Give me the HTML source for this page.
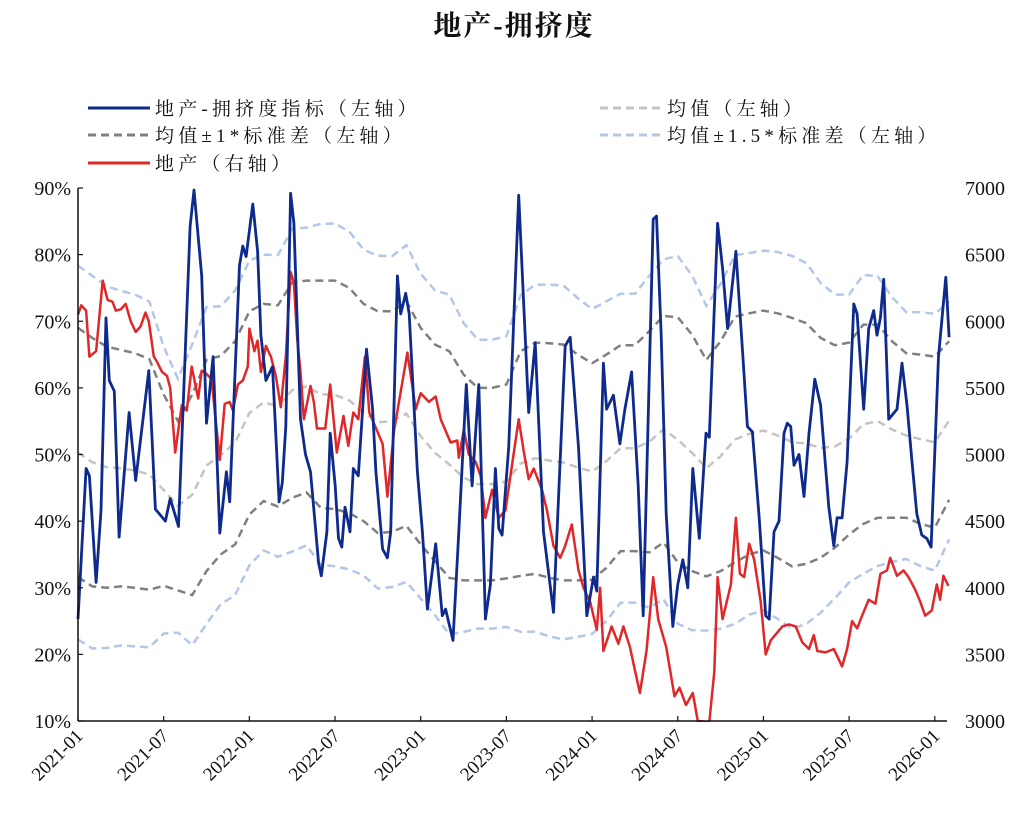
<!DOCTYPE html>
<html><head><meta charset="utf-8">
<style>
html,body{margin:0;padding:0;background:#fff;}
svg{display:block;}
text{font-family:"Liberation Serif","Noto Serif CJK SC",serif;fill:#111;}
.lg{letter-spacing:4.2px;}
</style></head>
<body>
<svg id="chart" width="1024" height="817" viewBox="0 0 1024 817" xmlns="http://www.w3.org/2000/svg">
<text x="514" y="35" text-anchor="middle" font-size="28" font-weight="bold" letter-spacing="2">地产-拥挤度</text>
<g font-size="19">
<line x1="88" y1="108" x2="150" y2="108" stroke="#0d2a8c" stroke-width="3"/>
<text class="lg" x="155" y="115" font-size="19">地产-拥挤度指标（左轴）</text>
<line x1="600" y1="108" x2="662" y2="108" stroke="#c4c4c4" stroke-width="3" stroke-dasharray="8,5"/>
<text class="lg" x="667" y="115" font-size="19">均值（左轴）</text>
<line x1="88" y1="135" x2="150" y2="135" stroke="#808080" stroke-width="3" stroke-dasharray="8,5"/>
<text class="lg" x="155" y="142" font-size="19">均值±1*标准差（左轴）</text>
<line x1="600" y1="135" x2="662" y2="135" stroke="#b4c7e7" stroke-width="3" stroke-dasharray="8,5"/>
<text class="lg" x="667" y="142" font-size="19">均值±1.5*标准差（左轴）</text>
<line x1="88" y1="163" x2="150" y2="163" stroke="#e0282a" stroke-width="3"/>
<text class="lg" x="155" y="170" font-size="19">地产（右轴）</text>
</g>
<g id="plot"></g>
</svg>
<script>
const xTickLabels=["2021-01","2021-07","2022-01","2022-07","2023-01","2023-07","2024-01","2024-07","2025-01","2025-07","2026-01"];
const xTickMonths=[0,6,12,18,24,30,36,42,48,54,60];
const leftTicks=[10,20,30,40,50,60,70,80,90];
const rightTicks=[3000,3500,4000,4500,5000,5500,6000,6500,7000];
const idxMonths=[0,0.57,0.8,1.27,1.61,1.96,2.19,2.54,2.88,3.58,4.04,4.27,4.96,5.42,6.12,6.46,7.04,7.85,8.12,8.66,9,9.46,9.93,10.39,10.62,11.31,11.54,11.77,12.24,12.58,12.81,13.16,13.62,14.08,14.31,14.55,14.89,15.12,15.58,15.93,16.28,16.85,17.04,17.43,17.66,18.01,18.24,18.47,18.7,19.05,19.28,19.63,20.2,20.63,20.86,21.33,21.67,21.9,22.37,22.6,22.95,23.19,23.77,24.12,24.47,25.05,25.51,25.74,26.26,26.67,27.19,27.6,28.07,28.53,28.88,29.23,29.47,29.7,30.16,30.86,31.56,32.02,32.6,33.3,34.12,34.47,35.05,35.63,36.1,36.33,36.79,37.02,37.49,37.95,38.3,38.77,39.23,39.58,40.28,40.51,40.84,41.19,41.65,42,42.35,42.7,43.05,43.51,43.98,44.21,44.79,45.14,45.49,46.07,46.53,46.88,47.23,47.7,48.16,48.4,48.74,49.09,49.44,49.67,49.91,50.14,50.49,50.84,51.19,51.6,52,52.58,52.93,53.16,53.51,53.86,54.33,54.56,55.02,55.37,55.72,55.95,56.19,56.42,56.77,57.35,57.7,58.05,58.4,58.74,59.09,59.44,59.74,60.26,60.77,61];
const idxValues=[25.3,47.9,46.8,30.8,41.6,70.5,61.1,59.5,37.6,56.3,46.1,50.3,62.6,41.8,40,43.4,39.2,84.2,89.7,76.8,54.7,64.7,38.2,47.4,42.9,78.4,81.3,79.7,87.6,80.5,67.9,61.1,63.2,42.9,45.8,54.2,89.2,84.7,55.3,50,47.4,33.7,31.8,38.4,53.2,45.3,37.4,36.1,42.1,38.4,47.9,46.8,65.8,56.8,47.4,35.8,34.5,38.4,76.8,71.1,74.2,71.1,47.4,38.4,26.8,36.6,25.8,26.8,22.1,38.4,60.5,45.3,60.5,25.3,30.5,47.9,38.9,37.9,51.1,88.9,56.3,66.8,38.4,26.3,66.3,67.6,51.1,25.8,31.6,29.5,63.7,56.8,58.9,51.6,56.8,62.4,45.3,25.8,85.3,85.8,67.9,41.1,24.2,30.5,34.2,30,47.9,37.4,53.2,52.6,84.7,77.9,68.9,80.5,65.8,54.2,53.4,40.5,25.8,25.3,38.4,40,53.2,54.7,54.2,48.4,50,43.7,53.2,61.3,57.4,42.1,36.3,40.5,40.5,48.9,72.6,71.1,56.8,68.9,71.6,67.9,70.5,76.3,55.3,56.8,63.7,57.4,48.9,41.1,37.9,37.4,36.1,64.7,76.6,67.6];
const reMonths=[0,0.23,0.57,0.8,1.27,1.73,2.07,2.42,2.65,3,3.34,3.69,4.04,4.38,4.73,4.96,5.31,5.54,5.88,6.23,6.46,6.81,7.27,7.62,7.96,8.42,8.66,9,9.35,9.93,10.27,10.62,10.85,11.2,11.54,11.89,12,12.35,12.58,12.81,13.16,13.51,13.85,14.2,14.55,14.89,15.12,15.35,15.58,15.82,16.28,16.51,16.74,17.32,17.66,18.12,18.59,18.93,19.28,19.63,20.09,20.4,21.33,21.67,22.14,23.07,23.65,24,24.58,25.05,25.4,26.09,26.56,26.67,27.02,27.37,27.84,28.19,28.53,29,29.47,29.93,30.86,31.21,31.56,31.91,32.49,32.84,33.3,33.77,34.12,34.58,35.05,35.4,35.86,36.33,36.56,36.79,37.37,37.84,38.19,38.65,39.35,39.81,40.28,40.63,41.19,41.77,42.12,42.58,43.05,43.4,44.21,44.56,44.79,45.14,45.72,46.07,46.35,46.65,47,47.35,47.81,48.16,48.51,49.33,49.79,50.26,50.72,51.19,51.53,51.77,52.35,52.93,53.51,53.86,54.21,54.56,54.91,55.37,55.84,56.19,56.65,56.88,57.35,57.81,58.16,58.63,58.98,59.33,59.79,60.14,60.37,60.6,60.95];
const reValues=[6050,6120,6080,5735,5775,6305,6160,6145,6080,6090,6130,6000,5920,5960,6065,6000,5735,5695,5620,5590,5500,5015,5370,5330,5660,5420,5630,5605,5565,4960,5380,5395,5330,5525,5555,5660,5945,5775,5855,5620,5815,5735,5590,5355,5735,6370,6290,5870,5620,5265,5515,5395,5195,5195,5525,5015,5290,5065,5315,5265,5735,5315,5080,4685,5185,5765,5340,5460,5395,5435,5265,5090,5105,4975,5185,5000,4945,4840,4525,4735,4525,4580,5265,5025,4815,4895,4735,4580,4315,4225,4315,4475,4130,4000,3895,3685,4000,3525,3710,3580,3710,3555,3210,3525,4080,3765,3555,3185,3250,3120,3210,3000,2990,3370,4080,3765,4025,4525,4105,4080,4330,4210,3895,3500,3605,3710,3725,3710,3590,3540,3645,3525,3515,3540,3410,3540,3750,3695,3790,3910,3880,4105,4130,4225,4090,4130,4080,3985,3895,3790,3830,4025,3910,4090,4015];
const bandMonths=[0,1,2,3,4,5,6,7,8,9,10,11,12,13,14,15,16,17,18,19,20,21,22,23,24,25,26,27,28,29,30,31,32,33,34,35,36,37,38,39,40,41,42,43,44,45,46,47,48,49,50,51,52,53,54,55,56,57,58,59,60,61];
const bandUpper=[69,67.5,66.2,65.7,65.2,64.3,59,55,59,64.2,64.8,67,71.5,72.6,72.4,75.8,76.1,76.1,76.1,75,72.6,71.5,71.5,73,69,66.5,65.5,62,60,60,60.5,65.5,66.8,66.7,66.5,65,63.7,65,66.4,66.4,68.5,70.8,70.6,68,64.2,67,70.7,71.2,71.6,71.2,70.5,69.7,67.5,66.4,66.8,69.5,69.5,67,65.2,65,64.7,67];
const bandLower=[31.6,30.2,30,30.2,30,29.7,30.3,29.6,28.9,32.5,35,36.5,41,43,42.2,43.5,44.3,42,41.8,41.2,40,38.2,38.4,39.3,36.5,34,31.5,31.1,31.1,31.1,31.4,31.8,32.1,31.5,31.1,31.1,31.2,33,35.5,35.5,35.3,36.8,33.8,32.5,31.7,32.5,33.8,35,35.6,34.5,33.2,33.6,34.5,36,38,39.6,40.5,40.5,40.5,39.6,39,43.2];

const X0=78,PX_PER_MONTH=14.28,YTOP=188,YBOT=721;
function xScale(m){return X0+m*PX_PER_MONTH;}
function yLeft(v){return YBOT-(v-10)/80*(YBOT-YTOP);}
function yRight(v){return YBOT-(v-3000)/4000*(YBOT-YTOP);}
const NS="http://www.w3.org/2000/svg";
const plot=document.getElementById('plot');
function mk(tag,attrs){const e=document.createElementNS(NS,tag);for(const k in attrs)e.setAttribute(k,attrs[k]);plot.appendChild(e);return e;}
function pathD(ms,vs,ys){return ms.map((m,i)=>(i?'L':'M')+xScale(m).toFixed(1)+','+ys(vs[i]).toFixed(1)).join('');}

const mean=bandUpper.map((u,i)=>(u+bandLower[i])/2);
const sd=bandUpper.map((u,i)=>(u-bandLower[i])/2);
const up15=mean.map((m,i)=>m+1.5*sd[i]);
const lo15=mean.map((m,i)=>m-1.5*sd[i]);

let p;
p=mk('path',{d:pathD(bandMonths,up15,yLeft),fill:'none',stroke:'#b4c7e7','stroke-width':2.5,'stroke-dasharray':'8,5'});


p=mk('path',{d:pathD(bandMonths,lo15,yLeft),fill:'none',stroke:'#b4c7e7','stroke-width':2.5,'stroke-dasharray':'8,5'});


p=mk('path',{d:pathD(bandMonths,mean,yLeft),fill:'none',stroke:'#c4c4c4','stroke-width':2.5,'stroke-dasharray':'8,5'});


p=mk('path',{d:pathD(bandMonths,bandUpper,yLeft),fill:'none',stroke:'#808080','stroke-width':2.5,'stroke-dasharray':'8,5'});


p=mk('path',{d:pathD(bandMonths,bandLower,yLeft),fill:'none',stroke:'#808080','stroke-width':2.5,'stroke-dasharray':'8,5'});


p=mk('path',{d:pathD(reMonths,reValues,yRight),fill:'none',stroke:'#e0282a','stroke-width':2.5,'stroke-linejoin':'round'});


p=mk('path',{d:pathD(idxMonths,idxValues,yLeft),fill:'none',stroke:'#0d2a8c','stroke-width':2.8,'stroke-linejoin':'round'});



p=mk('rect',{x:0,y:YBOT+1,width:1024,height:100,fill:'#fff'});



p=mk('line',{x1:X0,y1:YTOP,x2:X0,y2:YBOT,stroke:'#111','stroke-width':1.5});


p=mk('line',{x1:X0,y1:YBOT,x2:947,y2:YBOT,stroke:'#111','stroke-width':1.5});



leftTicks.forEach(v=>{
 const y=yLeft(v);
 const t=mk('line',{x1:X0,y1:y,x2:X0+5,y2:y,stroke:'#111','stroke-width':1.2});
 
 
 const l=mk('text',{x:71,y:y+7,'text-anchor':'end','font-size':20});
 
 
 l.textContent=v+'%';
});
rightTicks.forEach(v=>{
 const y=yRight(v);
 const l=mk('text',{x:965,y:y+7,'text-anchor':'start','font-size':20});
 
 
 l.textContent=v;
});
xTickMonths.forEach((m,i)=>{
 const x=xScale(m);
 const t=mk('line',{x1:x,y1:YBOT,x2:x,y2:YBOT-5,stroke:'#111','stroke-width':1.2});
 
 
 const l=mk('text',{x:x+6,y:YBOT+16,'text-anchor':'end','font-size':19,transform:'rotate(-45 '+(x+6)+' '+(YBOT+16)+')'});
 
 
 l.textContent=xTickLabels[i];
});
</script>
</body></html>
